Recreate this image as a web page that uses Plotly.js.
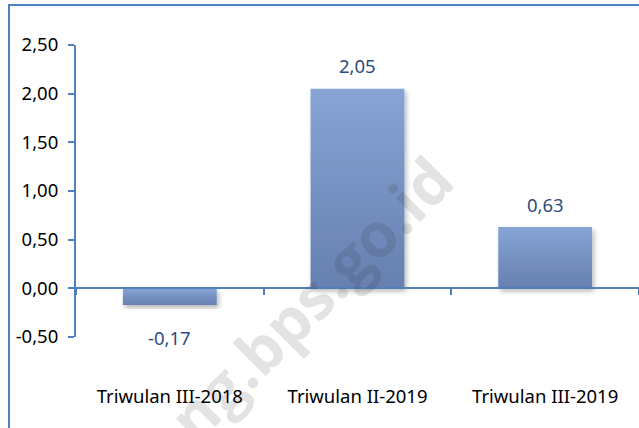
<!DOCTYPE html>
<html>
<head>
<meta charset="utf-8">
<script src="https://cdn.plot.ly/plotly-3.0.1.min.js"></script>
<style>
html,body{margin:0;padding:0;background:#fff;overflow:hidden;}
#chart{width:639px;height:428px;position:absolute;left:0;top:0;}
#frame{position:absolute;left:8px;top:4px;width:700px;height:500px;border:2px solid #4F81BD;pointer-events:none;}
</style>
</head>
<body>
<div id="chart"></div>
<div id="frame"></div>
<script>
const categories = ["Triwulan III-2018", "Triwulan II-2019", "Triwulan III-2019"];
const values = [-0.17, 2.05, 0.63];
const yTicks = [-0.5, 0, 0.5, 1, 1.5, 2, 2.5];
const watermark = "ng.bps.go.id";

const axisBlue = "#4F81BD";
const fontFam = "'Noto Sans', 'Open Sans', sans-serif";
const fmt = v => v.toFixed(2).replace(".", ",");

const trace = {
  type: "bar",
  x: categories,
  y: values,
  width: 0.5,
  marker: {color: "#7791C4", line: {width: 0}},
  hoverinfo: "none"
};

const labelAnns = categories.map((c, i) => ({
  x: c, y: values[i], xref: "x", yref: "y",
  text: fmt(values[i]),
  showarrow: false,
  xanchor: "center", yanchor: "middle",
  yshift: values[i] >= 0 ? 23 : -33,
  font: {family: fontFam, size: 18.5, color: "#2B4C7E"}
}));

const layout = {
  width: 639, height: 428,
  margin: {l: 76, r: 0, t: 45, b: 91},
  paper_bgcolor: "rgba(0,0,0,0)",
  plot_bgcolor: "rgba(0,0,0,0)",
  showlegend: false,
  font: {family: fontFam, size: 18.5, color: "#000"},
  xaxis: {
    anchor: "free", position: 0.5/3,
    showline: true, linecolor: axisBlue, linewidth: 2,
    ticks: "outside", tickson: "boundaries", ticklen: 6, tickwidth: 2, tickcolor: axisBlue,
    ticklabelstandoff: 91,
    showgrid: false, zeroline: false,
    tickfont: {family: fontFam, size: 18.5, color: "#000"}
  },
  yaxis: {
    range: [-0.5, 2.5],
    tickvals: yTicks,
    ticktext: yTicks.map(fmt),
    showline: true, linecolor: axisBlue, linewidth: 2,
    ticks: "outside", ticklen: 6, tickwidth: 2, tickcolor: axisBlue,
    showgrid: false, zeroline: false,
    ticklabelstandoff: 6,
    tickfont: {family: fontFam, size: 18.5, color: "#000"}
  },
  annotations: labelAnns.concat([{
    text: "<b>" + watermark + "</b>",
    xref: "paper", yref: "paper",
    x: 0.4156, y: 0.1336,
    xanchor: "center", yanchor: "middle",
    textangle: -45,
    showarrow: false,
    font: {family: "'Open Sans', 'Liberation Sans', sans-serif", size: 62, color: "rgba(40,40,40,0.13)"}
  }])
};

Plotly.newPlot("chart", [trace], layout, {staticPlot: true, displayModeBar: false}).then(function(gd){
  const svg = gd.querySelector("svg.main-svg");
  const ns = "http://www.w3.org/2000/svg";
  let defs = svg.querySelector("defs");
  if (!defs) { defs = document.createElementNS(ns, "defs"); svg.insertBefore(defs, svg.firstChild); }
  const grad = document.createElementNS(ns, "linearGradient");
  grad.setAttribute("id", "barGrad");
  grad.setAttribute("x1", "0"); grad.setAttribute("y1", "0");
  grad.setAttribute("x2", "0"); grad.setAttribute("y2", "1");
  [["0%", "#87A4D4"], ["100%", "#6680B0"]].forEach(function(s){
    const st = document.createElementNS(ns, "stop");
    st.setAttribute("offset", s[0]); st.setAttribute("stop-color", s[1]);
    grad.appendChild(st);
  });
  defs.appendChild(grad);
  const filt = document.createElementNS(ns, "filter");
  filt.setAttribute("id", "barShadow");
  filt.setAttribute("x", "-20%"); filt.setAttribute("y", "-20%");
  filt.setAttribute("width", "140%"); filt.setAttribute("height", "140%");
  const sh = document.createElementNS(ns, "feDropShadow");
  sh.setAttribute("dx", "2"); sh.setAttribute("dy", "3");
  sh.setAttribute("stdDeviation", "2.5"); sh.setAttribute("flood-color", "#000");
  sh.setAttribute("flood-opacity", "0.28");
  filt.appendChild(sh);
  defs.appendChild(filt);
  gd.querySelectorAll(".barlayer .point path").forEach(function(p){
    p.style.fill = "url(#barGrad)";
    p.setAttribute("filter", "url(#barShadow)");
  });
});
</script>
</body>
</html>
